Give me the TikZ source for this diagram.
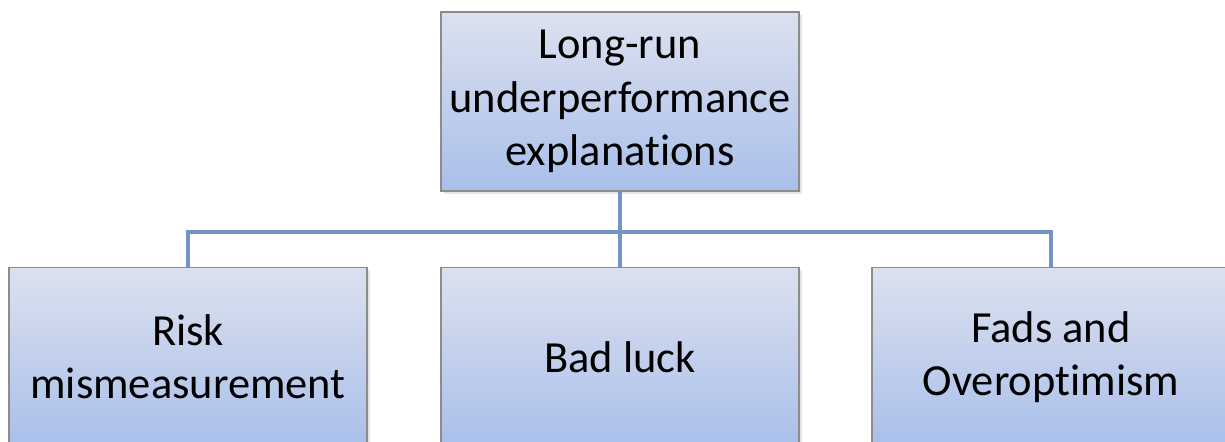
\documentclass[tikz,border=0pt]{standalone}
\usepackage{fontspec}
\setmainfont{Carlito}[Ligatures=NoCommon]
\usetikzlibrary{shadows}

\definecolor{boxtop}{HTML}{DCE1EF}
\definecolor{boxbot}{HTML}{A9BFEA}
\definecolor{boxline}{HTML}{8C8C8C}
\definecolor{linkcol}{HTML}{7393C6}

\tikzset{
  orgbox/.style={draw=boxline, line width=0.8pt, top color=boxtop, bottom color=boxbot,
    minimum width=7.16cm, minimum height=3.58cm, align=center,
    font=\fontsize{25.3}{30.4}\selectfont, inner sep=0pt,
    drop shadow={opacity=0.2, shadow xshift=1.5pt, shadow yshift=-1.5pt}},
  link/.style={draw=linkcol, line width=2.7pt}
}

\begin{document}
\begin{tikzpicture}[x=0.02cm, y=-0.02cm]
 \useasboundingbox (0,0) rectangle (1225,442);
 \clip (0,0) rectangle (1225,442);

 %level 0
 \node[orgbox] (top) at (620,101.5) {Long-run\\underperformance\\explanations};

 %level 1
 \def\dy{357}
 \foreach \i/\name/\txt in {188/risk/{Risk\\mismeasurement}, 620/luck/{Bad luck}, 1051/fads/{Fads and\\Overoptimism}} {
   \node[orgbox] (\name) at (\i,\dy) {\txt};
 }

 %links
 \coordinate (bus) at (620,232);
 \foreach \name in {risk, luck, fads} {
   \draw[link] (top.south) |- (bus -| \name.north) -- (\name.north);
 }

\end{tikzpicture}
\end{document}
